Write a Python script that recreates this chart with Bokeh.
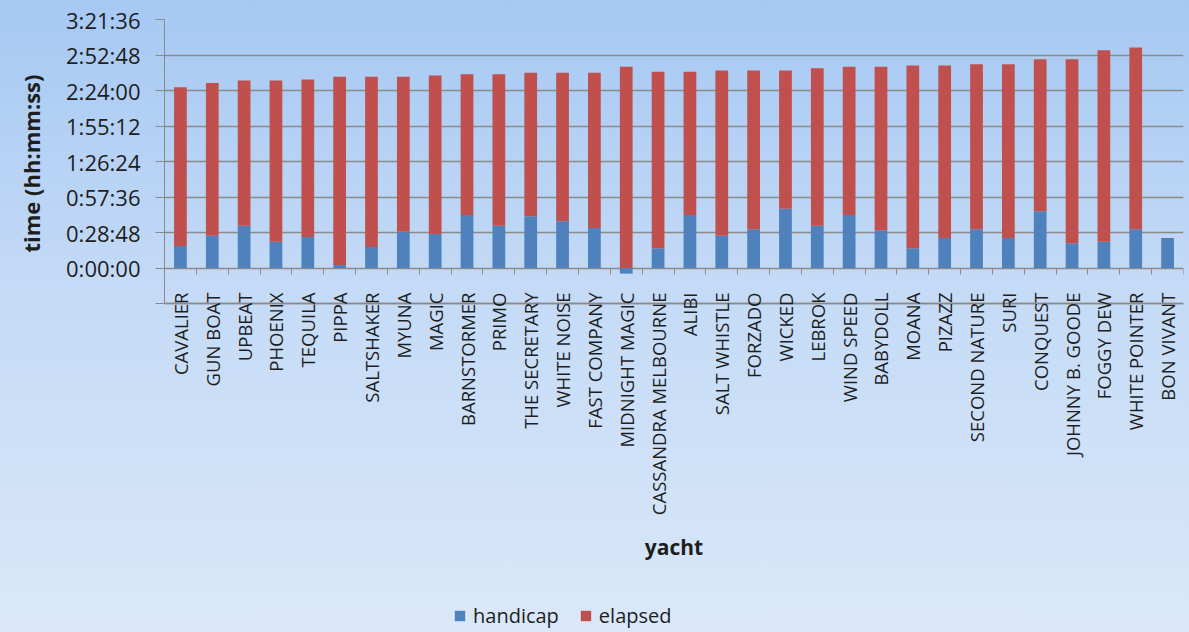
import numpy as np
from bokeh.plotting import figure
from bokeh.models import (ColumnDataSource, Range1d, FixedTicker, CustomJSTickFormatter,
                          LinearAxis, Legend, LegendItem, Title)
from bokeh.embed import file_html
from bokeh.resources import INLINE

# ---- data (seconds) ----
yachts = ["CAVALIER", "GUN BOAT", "UPBEAT", "PHOENIX", "TEQUILA", "PIPPA", "SALTSHAKER",
          "MYUNA", "MAGIC", "BARNSTORMER", "PRIMO", "THE SECRETARY", "WHITE NOISE",
          "FAST COMPANY", "MIDNIGHT MAGIC", "CASSANDRA MELBOURNE", "ALIBI", "SALT WHISTLE",
          "FORZADO", "WICKED", "LEBROK", "WIND SPEED", "BABYDOLL", "MOANA", "PIZAZZ",
          "SECOND NATURE", "SURI", "CONQUEST", "JOHNNY B. GOODE", "FOGGY DEW",
          "WHITE POINTER", "BON VIVANT"]
handicap = [1069, 1575, 2061, 1283, 1507, 144, 1020, 1769, 1653, 2577, 2061, 2514, 2270,
            1945, -274, 957, 2577, 1575, 1881, 2888, 2061, 2577, 1833, 957, 1458, 1881,
            1458, 2757, 1200, 1283, 1881, 1458]
elapsed = [7735, 7424, 7069, 7847, 7672, 9166, 8290, 7541, 7720, 6860, 7376, 6991, 7235,
           7560, 9797, 8596, 6976, 8042, 7736, 6729, 7668, 7220, 7964, 8903, 8402, 8042,
           8465, 7409, 8966, 9321, 8855, 0]
TICK_STEP = 1728          # 0:28:48
Y_MIN, Y_MAX = -1728, 12096

FONT = "Open Sans"
GRAY = "#8a8a8a"
TXT = "#1e1e1e"

# layout (pixels)
W, H = 1189, 632
TOP, LEFT, RIGHT = 19, 163, 6
PLOT_H = 284                      # height of the value area (Y_MIN..Y_MAX)
frame_h = H - TOP                 # frame runs to the bottom so labels/legend can live in it
y_low = Y_MAX - (Y_MAX - Y_MIN) * frame_h / PLOT_H

n = len(yachts)
x = np.arange(n) + 0.5
base = np.maximum(np.array(handicap), 0)
top = base + np.array(elapsed)
src = ColumnDataSource(dict(x=x, h=handicap, base=base, top=top, name=yachts))

p = figure(width=W, height=H, output_backend="svg", toolbar_location=None,
           x_range=Range1d(0, n), y_range=Range1d(y_low, Y_MAX),
           min_border_left=LEFT, min_border_right=RIGHT, min_border_top=TOP,
           min_border_bottom=0)
p.background_fill_color = None
p.border_fill_color = None
p.outline_line_color = None
p.styles = {"background-image":
            "linear-gradient(to bottom, #a6c8f3 0%, #c4daf6 45%, #dae8f9 100%)"}

rb = p.vbar(x="x", bottom=0, top="h", width=0.4, source=src,
            fill_color="#4F81BD", line_color=None)
rr = p.vbar(x="x", bottom="base", top="top", width=0.4, source=src,
            fill_color="#C0504D", line_color=None)

# y axis
yticks = [TICK_STEP * i for i in range(int(Y_MIN / TICK_STEP), int(Y_MAX / TICK_STEP) + 1)]
p.yaxis.ticker = FixedTicker(ticks=yticks)
p.yaxis.bounds = (Y_MIN, Y_MAX)
p.yaxis.formatter = CustomJSTickFormatter(code="""
    if (tick < 0) return "";
    const t = Math.round(tick);
    const h = Math.floor(t / 3600), m = Math.floor((t % 3600) / 60), s = t % 60;
    return h + ":" + String(m).padStart(2, "0") + ":" + String(s).padStart(2, "0");
""")
p.yaxis.major_label_text_font = FONT
p.yaxis.major_label_text_font_size = "22px"
p.yaxis.major_label_text_color = TXT
p.yaxis.major_label_standoff = 15
p.yaxis.major_tick_out = 9
p.yaxis.major_tick_in = 0
p.yaxis.minor_tick_line_color = None
p.yaxis.major_tick_line_color = GRAY
p.yaxis.axis_line_color = GRAY

# y axis title, placed beside the value area
ytitle = Title(text="time (hh:mm:ss)", align="right", vertical_align="top",
               offset=55, standoff=31,
               text_font=FONT, text_font_style="bold", text_font_size="22px",
               text_color=TXT)
p.add_layout(ytitle, "left")

p.ygrid.ticker = FixedTicker(ticks=yticks)
p.ygrid.grid_line_color = GRAY
p.ygrid.grid_line_width = 1.3
p.xgrid.grid_line_color = None

# x axis (labels) sitting on the bottom of the value area
p.xaxis.fixed_location = Y_MIN
p.xaxis.ticker = FixedTicker(ticks=list(x))
p.xaxis.formatter = CustomJSTickFormatter(args=dict(names=yachts),
                                          code="return names[Math.floor(tick)] || '';")
p.xaxis.major_label_orientation = np.pi / 2
p.xaxis.major_label_text_font = FONT
p.xaxis.major_label_text_font_size = "18.5px"
p.xaxis.major_label_text_color = TXT
p.xaxis.major_label_standoff = -11
p.xaxis.major_tick_out = 0
p.xaxis.major_tick_in = 0
p.xaxis.minor_tick_line_color = None
p.xaxis.axis_line_color = GRAY
p.xaxis.axis_line_width = 1.3
p.xaxis.axis_label = "yacht"
p.xaxis.axis_label_text_font = FONT
p.xaxis.axis_label_text_font_style = "bold"
p.xaxis.axis_label_text_font_size = "21px"
p.xaxis.axis_label_text_color = TXT
p.xaxis.axis_label_standoff = 15

# category boundary tick marks on the zero line (no labels)
ax2 = LinearAxis(fixed_location=0, ticker=FixedTicker(ticks=list(range(n + 1))),
                 formatter=CustomJSTickFormatter(code="return '';"),
                 major_tick_out=6, major_tick_in=0, major_tick_line_color=GRAY,
                 axis_line_color=None, minor_tick_line_color=None,
                 major_label_standoff=0)
p.add_layout(ax2, "below")

legend = Legend(items=[LegendItem(label="handicap", renderers=[rb]),
                       LegendItem(label="elapsed", renderers=[rr])],
                orientation="horizontal", location=(289, 3),
                label_text_font=FONT, label_text_font_size="20px",
                label_text_color=TXT, glyph_width=13, glyph_height=13,
                label_standoff=7, spacing=20, padding=0, margin=0,
                background_fill_alpha=0, border_line_color=None)
p.add_layout(legend, "center")

open("out.html", "w").write(file_html(p, INLINE))
